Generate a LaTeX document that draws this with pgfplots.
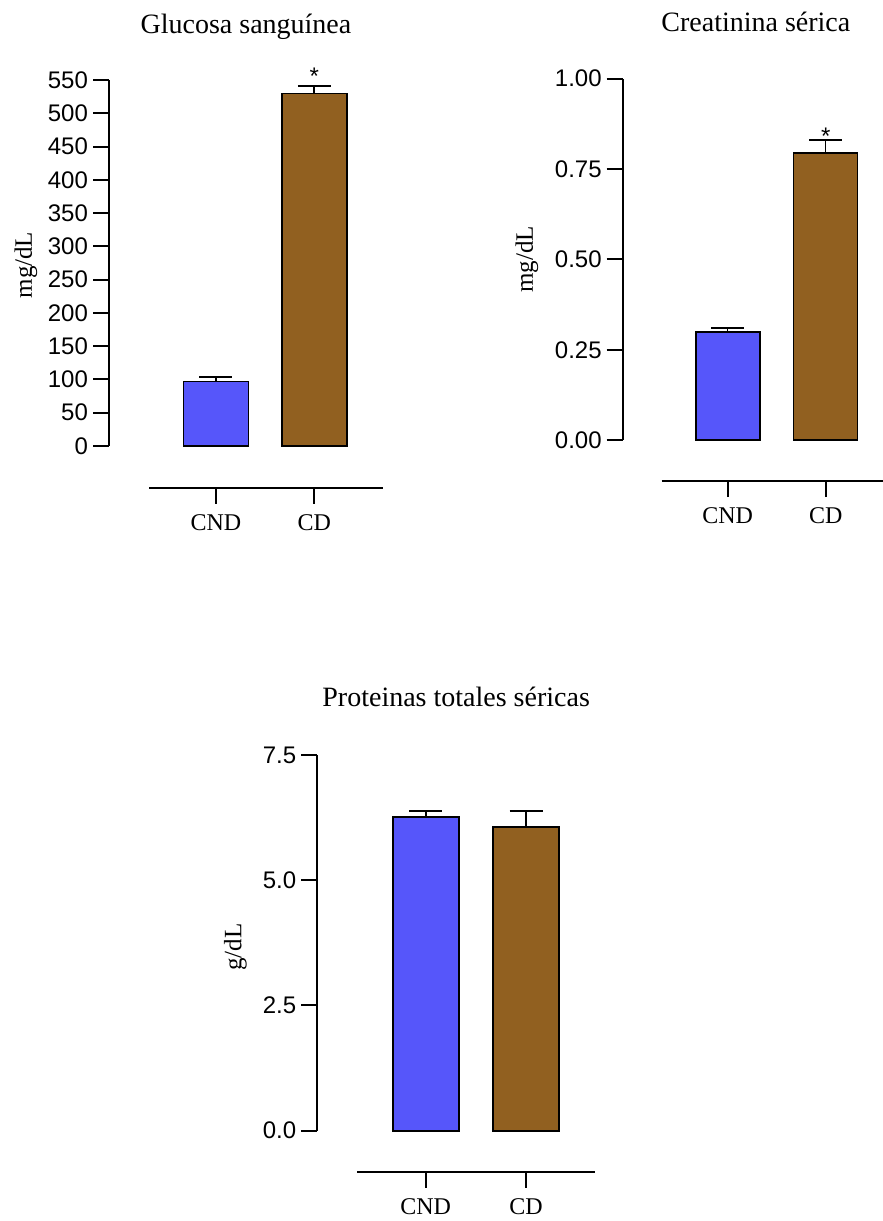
\documentclass[border=0pt]{standalone}
\usepackage{fontspec}
\setmainfont{Liberation Serif}
\setsansfont{Liberation Sans}
\usepackage{pgfplots}
\pgfplotsset{compat=1.18}
\definecolor{cnd}{RGB}{86,86,250}
\definecolor{cd}{RGB}{145,96,32}
\pgfplotsset{
 gp/.style={
  scale only axis, clip=false,
  axis y line*=left, axis x line*=bottom,
  tick align=outside, major tick length=8pt,
  xtick={0,1}, xticklabels={CND,CD},
  tick style={black, line width=1pt},
  y axis line style={line width=1pt},
  x axis line style={line width=0.8pt},
  /pgf/number format/assume math mode=true,
  yticklabel style={font=\fontsize{12}{14}\sffamily\selectfont, xshift=1pt},
  xticklabel style={font=\fontsize{12}{14}\selectfont, yshift=-2pt},
  ylabel style={font=\fontsize{12.5}{15}\selectfont},
  title style={font=\fontsize{14}{17}\selectfont},
  ybar,
 },
 cndbar/.style={fill=cnd, draw=black, line width=0.9pt, bar shift=0pt,
   error bars/.cd, y dir=plus, y explicit,
   error bar style={black, line width=0.8pt},
   error mark options={black, rotate=90, line width=0.8pt, mark size=8.25pt}},
 cdbar/.style={fill=cd, draw=black, line width=0.8pt, bar shift=0pt,
   error bars/.cd, y dir=plus, y explicit,
   error bar style={black, line width=0.8pt},
   error mark options={black, rotate=90, line width=0.8pt, mark size=8.25pt}},
}
\begin{document}
\begin{tikzpicture}
\path[use as bounding box] (0,0) rectangle (441.5pt,-610.5pt);
% Panel 1
\begin{axis}[gp, at={(54.5pt,-40pt)}, anchor=north west,
  width=137pt, height=203.85pt,
  xmin=-1.088, xmax=1.699, ymin=-62.7, ymax=550,
  ytick={0,50,...,550}, bar width=32.5pt,
  y axis line style={shorten <=20.85pt},
  x axis line style={shorten <=20.15pt},
  title={Glucosa sanguínea},
  title style={at={(rel axis cs:0.5,1)}, anchor=base, yshift=17.5pt},
  ylabel={mg/dL},
  ylabel style={at={([xshift=-41.5pt]rel axis cs:0,0.546)}, anchor=center}]
\addplot[cndbar] coordinates {(0,97) +- (0,7)};
\addplot[cdbar] coordinates {(1,530) +- (0,11)};
\node[font=\fontsize{12}{14}\sffamily\selectfont] at (axis cs:1,555) {*};
\end{axis}
% Panel 2
\begin{axis}[gp, at={(311.35pt,-39.35pt)}, anchor=north west,
  width=130.15pt, height=201.15pt,
  xmin=-1.071, xmax=1.585, ymin=-0.1126, ymax=1,
  ytick={0,0.25,0.5,0.75,1}, bar width=32pt,
  yticklabel style={/pgf/number format/.cd, fixed, fixed zerofill, precision=2},
  y axis line style={shorten <=20.35pt},
  x axis line style={shorten <=19.5pt},
  title={Creatinina sérica},
  title style={at={(rel axis cs:0.5,1)}, anchor=base, yshift=17.5pt, xshift=1.5pt},
  ylabel={mg/dL},
  ylabel style={at={([xshift=-47.85pt]rel axis cs:0,0.5506)}, anchor=center}]
\addplot[cndbar] coordinates {(0,0.30) +- (0,0.01)};
\addplot[cdbar] coordinates {(1,0.795) +- (0,0.035)};
\node[font=\fontsize{12}{14}\sffamily\selectfont] at (axis cs:1,0.8415) {*};
\end{axis}
% Panel 3
\begin{axis}[gp, at={(158.65pt,-377.5pt)}, anchor=north west,
  width=138.85pt, height=208.35pt,
  xmin=-1.081, xmax=1.688, ymin=-0.8185, ymax=7.5,
  ytick={0,2.5,5,7.5}, bar width=33pt,
  yticklabel style={/pgf/number format/.cd, fixed, fixed zerofill, precision=1},
  y axis line style={shorten <=20.5pt},
  x axis line style={shorten <=20pt},
  title={Proteinas totales séricas},
  title style={at={(rel axis cs:0.5,1)}, anchor=base, yshift=18.5pt},
  ylabel={g/dL},
  ylabel style={at={([xshift=-40.9pt]rel axis cs:0,0.539)}, anchor=center}]
\addplot[cndbar] coordinates {(0,6.26) +- (0,0.12)};
\addplot[cdbar] coordinates {(1,6.06) +- (0,0.32)};
\end{axis}
\end{tikzpicture}
\end{document}
